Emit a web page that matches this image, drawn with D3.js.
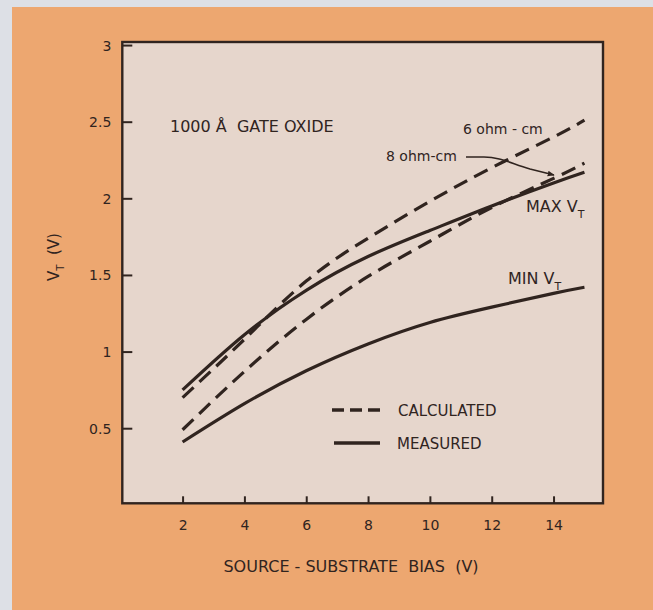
<!DOCTYPE html>
<html><head><meta charset="utf-8">
<script src="https://cdn.jsdelivr.net/npm/d3@7/dist/d3.min.js"></script>
<style>
html,body{margin:0;padding:0;background:#dde0e6;}
svg{display:block;}
text{font-family:"DejaVu Sans",sans-serif;fill:#30241f;}
</style></head>
<body>
<svg id="chart" width="653" height="610"></svg>
<script>
// ---- data ----
const biasX   = [2, 4, 6, 8, 10, 12, 14, 15];
const calc6   = [0.70, 1.08, 1.46, 1.74, 1.98, 2.20, 2.40, 2.51];
const calc8   = [0.49, 0.87, 1.21, 1.49, 1.72, 1.94, 2.13, 2.23];
const measMax = [0.75, 1.11, 1.40, 1.62, 1.79, 1.95, 2.10, 2.17];
const measMin = [0.41, 0.66, 0.875, 1.05, 1.19, 1.29, 1.38, 1.42];
const xTicks  = [2, 4, 6, 8, 10, 12, 14];
const yTicks  = [0.5, 1, 1.5, 2, 2.5, 3];
const yTickLabels = ["0.5", "1", "1.5", "2", "2.5", "3"];

const ink = "#30241f";
const svg = d3.select("#chart");

// page background
svg.append("rect").attr("x", 0).attr("y", 0).attr("width", 653).attr("height", 610).attr("fill", "#dde0e6");
svg.append("rect").attr("x", 12).attr("y", 7).attr("width", 641).attr("height", 603).attr("fill", "#eda770");

const x = d3.scaleLinear().domain([0.05, 15.6]).range([122.3, 603]);
const y = d3.scaleLinear().domain([0.01, 3.02]).range([503.3, 42]);

// plot panel
svg.append("rect")
  .attr("x", x(0.05)).attr("y", y(3.02))
  .attr("width", x(15.6) - x(0.05)).attr("height", y(0.01) - y(3.02))
  .attr("fill", "#e6d6cc").attr("stroke", ink).attr("stroke-width", 2.4);

// axes (ticks inside)
const yAxis = d3.axisLeft(y).tickValues(yTicks).tickSize(-10).tickPadding(21)
  .tickFormat((d, i) => yTickLabels[i]);
const gy = svg.append("g").attr("transform", `translate(${x(0.05)},0)`).call(yAxis);
gy.select(".domain").remove();
gy.selectAll("line").attr("stroke", ink).attr("stroke-width", 2);
gy.selectAll("text").attr("font-size", 14).attr("fill", ink).attr("x", -11).attr("dy", "0.36em");

const xAxis = d3.axisBottom(x).tickValues(xTicks).tickSize(-7).tickPadding(17);
const gx = svg.append("g").attr("transform", `translate(0,${y(0.01)})`).call(xAxis);
gx.select(".domain").remove();
gx.selectAll("line").attr("stroke", ink).attr("stroke-width", 2);
gx.selectAll("text").attr("font-size", 14).attr("fill", ink);

// curves
const line = d3.line().x(d => x(d[0])).y(d => y(d[1])).curve(d3.curveNatural);
function draw(vals, dashed) {
  svg.append("path")
    .datum(biasX.map((b, i) => [b, vals[i]]))
    .attr("d", line).attr("fill", "none").attr("stroke", ink)
    .attr("stroke-width", 3.2).attr("stroke-linecap", "butt")
    .attr("stroke-dasharray", dashed ? "15,8" : null);
}
draw(calc6, true);
draw(calc8, true);
draw(measMax, false);
draw(measMin, false);

// annotations
svg.append("text").attr("x", 170).attr("y", 132).attr("font-size", 16)
  .attr("xml:space", "preserve").text("1000 Å  GATE OXIDE");
svg.append("text").attr("x", 463).attr("y", 133.5).attr("font-size", 14).text("6 ohm - cm");
svg.append("text").attr("x", 386).attr("y", 161).attr("font-size", 14).text("8 ohm-cm");

// leader arrow for 8 ohm-cm
svg.append("defs").append("marker").attr("id", "arr").attr("viewBox", "0 0 10 10")
  .attr("refX", 9).attr("refY", 5).attr("markerWidth", 7).attr("markerHeight", 7)
  .attr("orient", "auto").attr("markerUnits", "userSpaceOnUse")
  .append("path").attr("d", "M0,1 L10,5 L0,9 Z").attr("fill", ink);
svg.append("path").attr("d", "M466,157 L484,157 C500,157 510,163 530,169 L554,175")
  .attr("fill", "none").attr("stroke", ink).attr("stroke-width", 1.5)
  .attr("marker-end", "url(#arr)");

const maxT = svg.append("text").attr("x", 526).attr("y", 212).attr("font-size", 16);
maxT.append("tspan").text("MAX V");
maxT.append("tspan").attr("font-size", 11).attr("dy", 6).text("T");
const minT = svg.append("text").attr("x", 508).attr("y", 284).attr("font-size", 16);
minT.append("tspan").text("MIN V");
minT.append("tspan").attr("font-size", 11).attr("dy", 6).text("T");

// legend
svg.append("line").attr("x1", 332).attr("x2", 380).attr("y1", 410).attr("y2", 410)
  .attr("stroke", ink).attr("stroke-width", 3.5).attr("stroke-dasharray", "12,6");
svg.append("line").attr("x1", 334).attr("x2", 380).attr("y1", 443).attr("y2", 443)
  .attr("stroke", ink).attr("stroke-width", 3.5);
svg.append("text").attr("x", 398).attr("y", 416).attr("font-size", 15).text("CALCULATED");
svg.append("text").attr("x", 397).attr("y", 449).attr("font-size", 15).text("MEASURED");

// axis titles
svg.append("text").attr("x", 351).attr("y", 572).attr("font-size", 16)
  .attr("text-anchor", "middle").attr("xml:space", "preserve").text("SOURCE - SUBSTRATE  BIAS  (V)");
const yl = svg.append("text").attr("transform", "translate(59,257) rotate(-90)")
  .attr("text-anchor", "middle").attr("font-size", 15);
yl.append("tspan").text("V");
yl.append("tspan").attr("font-size", 10).attr("dy", 5).text("T");
yl.append("tspan").attr("dy", -5).attr("xml:space", "preserve").text("  (V)");
</script>
</body></html>
